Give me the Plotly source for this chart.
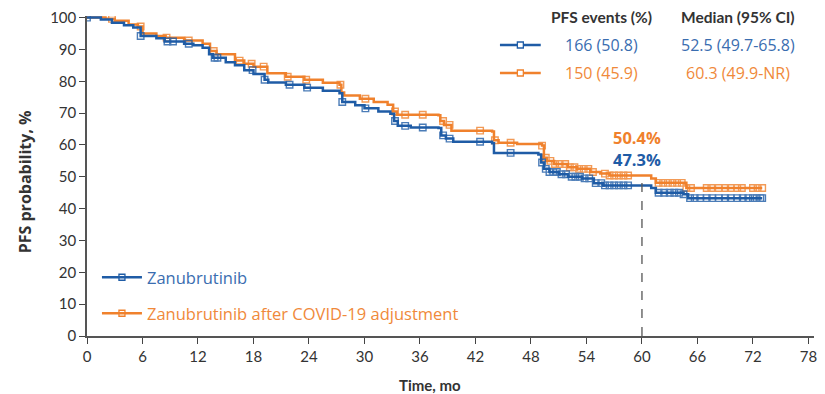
import numpy as np
import plotly.graph_objects as go

# ---------------- data ----------------
blue_t = [0, 1.5, 2.7, 4.0, 5.0, 5.8, 7.5, 8.4, 10.5, 11.5, 12.5, 13.2, 13.6, 15.0, 16.0, 17.0, 18.0,
          19.2, 19.6, 21.5, 23.5, 25.5, 27.3, 27.6, 29.0, 30.0, 31.5, 32.8, 33.2, 33.6, 35.0, 38.0,
          38.3, 38.8, 39.6, 43.8, 44.0, 48.8, 49.1, 49.4, 50.0, 51.0, 52.0, 53.5, 54.8, 55.8, 61.0,
          61.5, 64.5, 65.0, 73.0]
blue_s = [100, 99.4, 98.4, 97.6, 96.9, 94.2, 93.5, 92.5, 91.8, 91.3, 90.5, 88.5, 87.4, 86.0, 85.0, 83.5, 82.3,
          80.5, 79.6, 78.9, 78.0, 77.0, 76.2, 73.5, 72.5, 71.5, 70.5, 69.8, 67.5, 66.0, 65.5, 65.3,
          63.0, 62.0, 61.0, 60.5, 57.5, 57.0, 54.5, 52.5, 51.5, 50.8, 50.0, 49.5, 48.0, 47.3, 46.5,
          45.0, 44.5, 43.3, 43.3]
orange_t = [0, 2.0, 3.0, 4.5, 5.5, 6.0, 7.5, 8.5, 10.5, 12.5, 13.3, 14.0, 16.0, 17.0, 18.0, 19.5, 21.5,
            23.5, 25.5, 27.3, 27.5, 27.8, 29.5, 31.0, 32.5, 33.1, 33.5, 38.0, 38.2, 38.6, 39.4, 43.8,
            44.0, 44.5, 46.5, 49.2, 49.4, 49.7, 50.5, 52.0, 53.0, 54.4, 55.5, 56.5, 61.0, 61.5, 64.8, 73.0]
orange_s = [100, 99.6, 99.0, 97.8, 97.2, 95.0, 94.2, 93.7, 92.8, 91.8, 89.5, 88.5, 86.5, 85.5, 84.6, 82.5, 81.4,
            80.5, 79.5, 78.9, 76.5, 75.5, 74.5, 73.5, 72.6, 70.5, 69.5, 69.3, 67.5, 66.3, 64.5, 64.2,
            61.5, 60.7, 60.3, 59.8, 56.0, 55.0, 54.0, 53.0, 52.5, 51.5, 51.0, 50.4, 49.5, 48.1, 46.5, 46.5]
blue_censor = [0, 5.8, 8.7, 9.3, 11, 13.8, 14.1, 17.9, 19.2, 21.9, 23.8, 27.6, 30.1, 33.3, 34.4, 36.3,
               38.5, 39.2, 42.5, 45.8, 49.2, 49.6, 50.0, 50.4, 50.8, 51.3, 51.8, 52.4, 52.8, 53.3, 53.8,
               54.3, 55.0, 55.6, 56.0, 56.5, 57.0, 57.5, 58.0, 58.5, 61.8, 62.4, 63.0, 63.5, 64.0, 64.5,
               65.2, 65.7, 66.3, 67.0, 67.6, 68.3, 69.0, 69.6, 70.3, 70.9, 71.5, 72.0, 72.4, 72.8, 73.0]
orange_censor = [2.7, 5.8, 8.6, 11, 13.7, 16.5, 17.8, 19.1, 21.7, 23.7, 27.4, 30.1, 33.3, 34.4, 36.3,
                 38.5, 39.2, 42.5, 44.1, 45.8, 49.2, 49.6, 50.1, 50.6, 51.1, 51.7, 52.2, 52.7, 53.2,
                 53.7, 54.2, 54.7, 56.0, 56.5, 57.0, 57.5, 58.0, 58.5, 61.8, 62.3, 62.8, 63.3, 63.8,
                 64.3, 64.8, 65.3, 67.0, 67.5, 68.3, 69.0, 69.6, 70.3, 70.8, 72.0, 72.5, 73.0]
series_names = ["Zanubrutinib", "Zanubrutinib after COVID-19 adjustment"]
pfs_events = ["166 (50.8)", "150 (45.9)"]
medians = ["52.5 (49.7-65.8)", "60.3 (49.9-NR)"]
landmark_x = 60
landmark_labels = ["47.3%", "50.4%"]
x_ticks = list(range(0, 79, 6))
y_ticks = list(range(0, 101, 10))

BLUE = "#1f5ca6"
ORANGE = "#f0812c"
BLUE_TXT = "#3a6db0"
ORANGE_TXT = "#f0893a"
FONT = "Lato"
TFONT = "Open Sans"


def step_val(ts, ss, x):
    i = np.searchsorted(np.array(ts), x, side="right") - 1
    return np.array(ss)[np.clip(i, 0, len(ss) - 1)]


fig = go.Figure()
for ts, ss, cens, col in [(orange_t, orange_s, orange_censor, ORANGE),
                          (blue_t, blue_s, blue_censor, BLUE)]:
    fig.add_trace(go.Scatter(x=ts, y=ss, mode="lines", line=dict(color=col, width=2.5, shape="hv"),
                             showlegend=False, hoverinfo="skip"))
    fig.add_trace(go.Scatter(x=cens, y=step_val(ts, ss, cens), mode="markers",
                             marker=dict(symbol="square-open", size=6.5, color=col, line=dict(width=1.4)),
                             opacity=0.8, showlegend=False, hoverinfo="skip"))

# legend entries (bottom-left), one legend per entry so each can have its own text colour
for i, (name, col, lg) in enumerate([(series_names[0], BLUE, "legend"), (series_names[1], ORANGE, "legend2")]):
    fig.add_trace(go.Scatter(x=[None], y=[None], mode="lines+markers", name=name,
                             line=dict(color=col, width=2.5),
                             marker=dict(symbol="square-open", size=6, color=col, line=dict(width=1.3)),
                             legend=lg))

# landmark dashed line
fig.add_trace(go.Scatter(x=[landmark_x, landmark_x], y=[0, 49], mode="lines",
                         line=dict(color="#555555", width=1.3, dash="dash"), showlegend=False, hoverinfo="skip"))

fig.add_annotation(x=landmark_x - 0.5, y=62.3, text=f"<b>{landmark_labels[1]}</b>", showarrow=False,
                   font=dict(family=TFONT, size=16.5, color=ORANGE), xanchor="center", yanchor="middle")
fig.add_annotation(x=landmark_x - 0.5, y=55.3, text=f"<b>{landmark_labels[0]}</b>", showarrow=False,
                   font=dict(family=TFONT, size=16.5, color=BLUE), xanchor="center", yanchor="middle")

# pixel helper -> paper
L, R, T, B = 87, 817.6, 16, 336
def px(xp):
    return (xp - L) / (R - L)
def py(yp):
    return (B - yp) / (B - T)

fig.add_annotation(xref="paper", yref="paper", x=px(604), y=py(17), text="<b>PFS events (%)</b>",
                   showarrow=False, font=dict(family=FONT, size=15.5, color="#333333"), xanchor="center", yanchor="middle")
fig.add_annotation(xref="paper", yref="paper", x=px(741), y=py(17), text="<b>Median (95% CI)</b>",
                   showarrow=False, font=dict(family=FONT, size=15.5, color="#333333"), xanchor="center", yanchor="middle")
for i, (yrow, col, tcol) in enumerate([(45, BLUE, BLUE_TXT), (73, ORANGE, ORANGE_TXT)]):
    fig.add_shape(type="line", xref="paper", yref="paper", x0=px(502), x1=px(543), y0=py(yrow), y1=py(yrow),
                  line=dict(color=col, width=2.5))
    fig.add_shape(type="rect", xref="paper", yref="paper", x0=px(519.5), x1=px(525.5),
                  y0=py(yrow + 3), y1=py(yrow - 3), line=dict(color=col, width=1.3), fillcolor="white")
    fig.add_annotation(xref="paper", yref="paper", x=px(604), y=py(yrow), text=pfs_events[i], showarrow=False,
                       font=dict(family=TFONT, size=16, color=tcol), xanchor="center", yanchor="middle")
    fig.add_annotation(xref="paper", yref="paper", x=px(741), y=py(yrow), text=medians[i], showarrow=False,
                       font=dict(family=TFONT, size=16, color=tcol), xanchor="center", yanchor="middle")

# axis titles
fig.add_annotation(xref="paper", yref="paper", x=px(432), y=py(374), text="<b>Time, mo</b>", showarrow=False,
                   font=dict(family=FONT, size=15, color="#333333"), xanchor="center", yanchor="top")
fig.add_annotation(xref="paper", yref="paper", x=px(25), y=py(182), text="<b>PFS probability, %</b>",
                   showarrow=False, textangle=-90, font=dict(family=TFONT, size=16, color="#333333"),
                   xanchor="center", yanchor="middle")

fig.update_layout(
    width=825, height=394,
    margin=dict(l=L, r=825 - R, t=T, b=394 - B),
    paper_bgcolor="white", plot_bgcolor="white",
    font=dict(family=FONT, color="#333333"),
    legend=dict(x=px(97), y=py(260), xanchor="left", yanchor="top", bgcolor="rgba(0,0,0,0)",
                font=dict(family=TFONT, size=16.5, color=BLUE_TXT), itemwidth=40),
    legend2=dict(x=px(97), y=py(296), xanchor="left", yanchor="top", bgcolor="rgba(0,0,0,0)",
                 font=dict(family=TFONT, size=16.5, color=ORANGE_TXT), itemwidth=40),
    showlegend=True,
)
fig.update_xaxes(range=[0, 78.6], tickvals=x_ticks, ticks="outside", ticklen=6, tickcolor="#444444",
                 showline=True, linecolor="#555555", linewidth=1.5, showgrid=False, zeroline=False,
                 tickfont=dict(family=FONT, size=15, color="#333333"))
fig.update_yaxes(range=[0, 100.5], tickvals=y_ticks, ticks="outside", ticklen=6, tickcolor="#444444",
                 showline=True, linecolor="#555555", linewidth=1.5, showgrid=False, zeroline=False,
                 tickfont=dict(family=FONT, size=15, color="#333333"))

fig.write_html("out.html")
